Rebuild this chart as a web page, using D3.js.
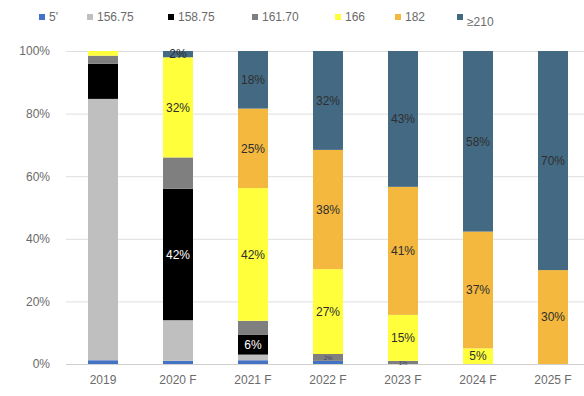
<!DOCTYPE html>
<html>
<head>
<meta charset="utf-8">
<script src="https://cdn.jsdelivr.net/npm/d3@7"></script>
<style>
  html, body { margin: 0; padding: 0; background: #fff; }
  svg text { font-family: "Liberation Sans", Arial, sans-serif; }
</style>
</head>
<body>
<svg id="chart" width="584" height="396"></svg>
<script>
// Share of output by product size (percent of each year)
const categories = ["2019", "2020 F", "2021 F", "2022 F", "2023 F", "2024 F", "2025 F"];
const seriesNames = ["5'", "156.75", "158.75", "161.70", "166", "182", "≥210"];

const s5 =      [1.2, 1.0, 1.2, 1.0, 0.0, 0.0, 0.0];
const s15675 =  [83.5, 13.0, 1.8, 0.0, 0.0, 0.0, 0.0];
const s15875 =  [11.2, 42.0, 6.4, 0.0, 0.0, 0.0, 0.0];
const s16170 =  [2.6, 10.0, 4.4, 2.2, 1.0, 0.0, 0.0];
const s166 =    [1.5, 32.0, 42.4, 27.1, 14.7, 5.0, 0.0];
const s182 =    [0.0, 0.0, 25.4, 38.1, 40.9, 37.3, 30.0];
const s210 =    [0.0, 2.0, 18.4, 31.6, 43.4, 57.7, 70.0];

const yTicks = [0, 20, 40, 60, 80, 100];

const colors = ["#4472c4", "#bfbfbf", "#000000", "#7f7f7f", "#ffff3c", "#f4b83f", "#446a83"];

// series whose segments carry a percentage label (the first year has none)
const labelledSeries = ["158.75", "166", "182", "≥210"];
const smallLabels = [["2022 F", "161.70"], ["2023 F", "161.70"]];

const allSeries = [s5, s15675, s15875, s16170, s166, s182, s210];
const rows = categories.map((c, i) => {
  const r = { cat: c };
  seriesNames.forEach((n, j) => { r[n] = allSeries[j][i]; });
  return r;
});

const svg = d3.select("#chart");

const x = d3.scaleBand()
  .domain(categories)
  .range([65.5, 590.5])
  .paddingInner(0.6)
  .paddingOuter(0.3);

const y = d3.scaleLinear().domain([0, 100]).range([364, 51]);

// gridlines and y labels
const yAxis = svg.append("g")
  .attr("transform", "translate(66,0)")
  .call(d3.axisLeft(y).tickValues(yTicks).tickSize(-530).tickFormat(d => d + "%"));
yAxis.select(".domain").remove();
yAxis.selectAll(".tick line").attr("stroke", "#dedede").attr("stroke-width", 1);
yAxis.selectAll(".tick text")
  .attr("x", -16)
  .attr("fill", "#6b6b6b")
  .style("font-size", "12px");

// x labels
const xAxis = svg.append("g")
  .attr("transform", "translate(0,364)")
  .call(d3.axisBottom(x).tickSize(0));
xAxis.select(".domain").attr("stroke", "#d0d0d0");
xAxis.selectAll(".tick text")
  .attr("dy", "1.45em")
  .attr("fill", "#6b6b6b")
  .style("font-size", "12px");

// stacked bars
const stacked = d3.stack().keys(seriesNames)(rows);

const layers = svg.append("g").selectAll("g")
  .data(stacked)
  .join("g")
  .attr("fill", (d, i) => colors[i]);

layers.selectAll("rect")
  .data(d => d.map(p => Object.assign(p, { key: d.key })))
  .join("rect")
  .attr("x", d => x(d.data.cat))
  .attr("width", x.bandwidth())
  .attr("y", d => y(d[1]))
  .attr("height", d => y(d[0]) - y(d[1]));

// segment value labels
const labelData = [];
stacked.forEach(layer => {
  layer.forEach(p => {
    const v = p[1] - p[0];
    const cat = p.data.cat;
    const isSmall = smallLabels.some(s => s[0] === cat && s[1] === layer.key);
    if (v > 0 && cat !== "2019" && (labelledSeries.includes(layer.key) || isSmall)) {
      labelData.push({ cat, key: layer.key, v, mid: (p[0] + p[1]) / 2, small: isSmall });
    }
  });
});

svg.append("g").selectAll("text")
  .data(labelData)
  .join("text")
  .attr("x", d => x(d.cat) + x.bandwidth() / 2)
  .attr("y", d => y(d.mid))
  .attr("dy", "0.35em")
  .attr("text-anchor", "middle")
  .attr("fill", d => d.key === "158.75" ? "#ffffff" : (d.small ? "#3c4a66" : "#2e2e2e"))
  .style("font-size", d => d.small ? "6px" : "12px")
  .text(d => Math.round(d.v) + "%");

// legend
const legendX = [39, 87, 168, 252, 335, 395, 457];
const legend = svg.append("g").selectAll("g")
  .data(seriesNames)
  .join("g")
  .attr("transform", (d, i) => `translate(${legendX[i]},17)`);

legend.append("rect")
  .attr("x", 0).attr("y", -3)
  .attr("width", 6).attr("height", 6)
  .attr("fill", (d, i) => colors[i]);

legend.append("text")
  .attr("x", 10)
  .attr("dy", d => d === "≥210" ? "0.75em" : "0.35em")
  .attr("fill", "#6b6b6b")
  .style("font-size", "12px")
  .text(d => d);
</script>
</body>
</html>
